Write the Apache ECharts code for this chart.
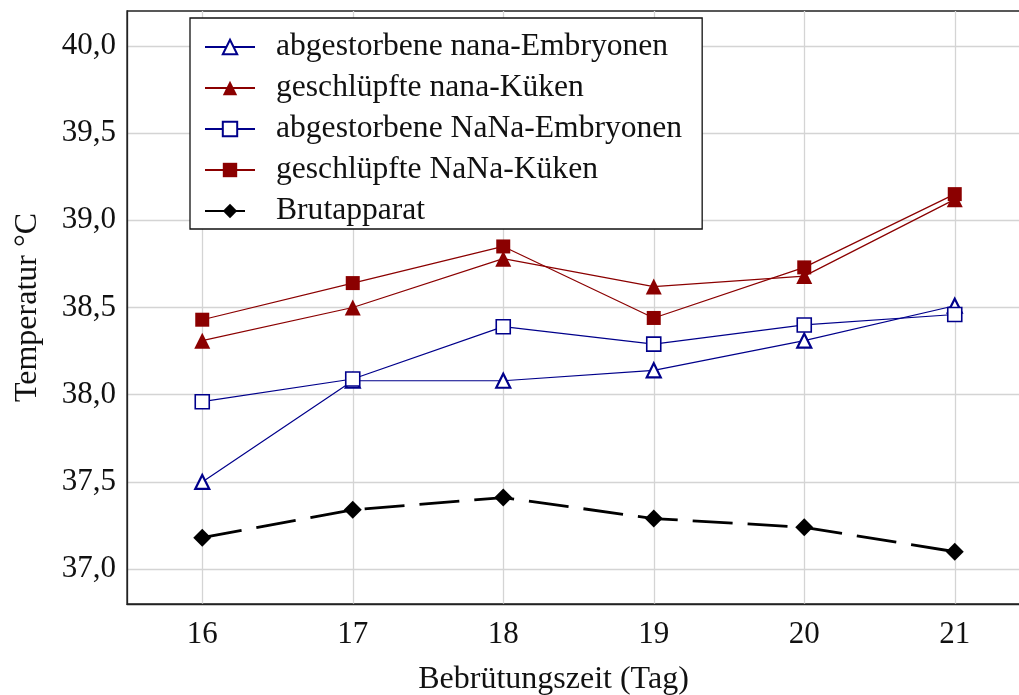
<!DOCTYPE html>
<html>
<head>
<meta charset="utf-8">
<script src="https://cdn.jsdelivr.net/npm/echarts@6/dist/echarts.min.js"></script>
<style>
  html, body { margin: 0; padding: 0; background: #fff; }
  #chart { width: 1019px; height: 695px; }
</style>
</head>
<body>
<div id="chart"></div>
<script>
// Incubation days
const days = [16, 17, 18, 19, 20, 21];
// Temperature ticks (°C)
const tempTicks = [37.0, 37.5, 38.0, 38.5, 39.0, 39.5, 40.0];

// Mean temperatures per day
const nanaEmbryos = [37.50, 38.08, 38.08, 38.14, 38.31, 38.51];
const nanaChicks  = [38.31, 38.50, 38.78, 38.62, 38.68, 39.12];
const NaNaEmbryos = [37.96, 38.09, 38.39, 38.29, 38.40, 38.46];
const NaNaChicks  = [38.43, 38.64, 38.85, 38.44, 38.73, 39.15];
const incubator   = [37.18, 37.34, 37.41, 37.29, 37.24, 37.10];

const seriesNames = [
  'abgestorbene nana-Embryonen',
  'geschlüpfte nana-Küken',
  'abgestorbene NaNa-Embryonen',
  'geschlüpfte NaNa-Küken',
  'Brutapparat'
];

const BLUE = '#00008b';
const RED = '#8b0000';
const FONT = '"Liberation Serif", "Times New Roman", serif';

function pairs(vals) {
  return days.map((d, i) => [d, vals[i]]);
}

const chart = echarts.init(document.getElementById('chart'), null, { renderer: 'canvas' });

chart.setOption({
  animation: false,
  backgroundColor: '#fff',
  textStyle: { fontFamily: FONT },
  // plot area runs past the right edge of the canvas (day 21.5)
  grid: {
    left: 127, width: 903, top: 11, bottom: 91,
    outerBoundsMode: 'none',
    containLabel: false,
    show: true, borderColor: '#222', borderWidth: 1.3, backgroundColor: 'transparent'
  },
  legend: {
    orient: 'vertical',
    left: 190, top: 18,
    padding: [12, 20, 1, 14],
    itemWidth: 50,
    itemHeight: 18,
    itemGap: 7,
    borderColor: '#111',
    borderWidth: 1.3,
    backgroundColor: '#fff',
    textStyle: { fontFamily: FONT, fontSize: 31.6, color: '#111', lineHeight: 34, padding: [0, 0, 0, 16] },
    data: seriesNames
  },
  xAxis: {
    type: 'value',
    min: 15.5, max: 21.5,
    name: 'Bebrütungszeit (Tag)',
    nameLocation: 'middle',
    nameGap: 60,
    nameTextStyle: { fontFamily: FONT, fontSize: 32, color: '#111', padding: [0, 50, 0, 0] },
    axisLine: { show: true, lineStyle: { color: '#222', width: 1.3 } },
    axisTick: { show: false, customValues: days },
    axisLabel: { customValues: days, fontFamily: FONT, fontSize: 31, color: '#111', margin: 15 },
    splitLine: { show: true, lineStyle: { color: '#d4d4d4', width: 1.3 } }
  },
  yAxis: {
    type: 'value',
    min: 36.8, max: 40.2,
    name: 'Temperatur °C',
    nameLocation: 'middle',
    nameGap: 83,
    nameTextStyle: { fontFamily: FONT, fontSize: 32, color: '#111' },
    axisLine: { show: true, lineStyle: { color: '#222', width: 1.3 } },
    axisTick: { show: false, customValues: tempTicks },
    axisLabel: {
      customValues: tempTicks,
      fontFamily: FONT, fontSize: 31, color: '#111', margin: 11,
      formatter: v => v.toFixed(1).replace('.', ',')
    },
    splitLine: { show: true, lineStyle: { color: '#d4d4d4', width: 1.3 } }
  },
  series: [
    {
      name: seriesNames[0], type: 'line', data: pairs(nanaEmbryos),
      symbol: 'triangle', symbolSize: 14,
      lineStyle: { color: BLUE, width: 1.2 },
      itemStyle: { color: '#fff', borderColor: BLUE, borderWidth: 2.2 },
      z: 3
    },
    {
      name: seriesNames[1], type: 'line', data: pairs(nanaChicks),
      symbol: 'triangle', symbolSize: 16,
      lineStyle: { color: RED, width: 1.2 },
      itemStyle: { color: RED, borderColor: RED, borderWidth: 0 },
      z: 3
    },
    {
      name: seriesNames[2], type: 'line', data: pairs(NaNaEmbryos),
      symbol: 'rect', symbolSize: 14,
      lineStyle: { color: BLUE, width: 1.2 },
      itemStyle: { color: '#fff', borderColor: BLUE, borderWidth: 1.6 },
      z: 4
    },
    {
      name: seriesNames[3], type: 'line', data: pairs(NaNaChicks),
      symbol: 'rect', symbolSize: 14,
      lineStyle: { color: RED, width: 1.2 },
      itemStyle: { color: RED, borderColor: RED, borderWidth: 0 },
      z: 4
    },
    {
      name: seriesNames[4], type: 'line', data: pairs(incubator),
      symbol: 'diamond', symbolSize: 18,
      lineStyle: { color: '#000', width: 2.8, type: [40, 15] },
      itemStyle: { color: '#000', borderWidth: 0 },
      z: 3
    }
  ]
});
</script>
</body>
</html>
